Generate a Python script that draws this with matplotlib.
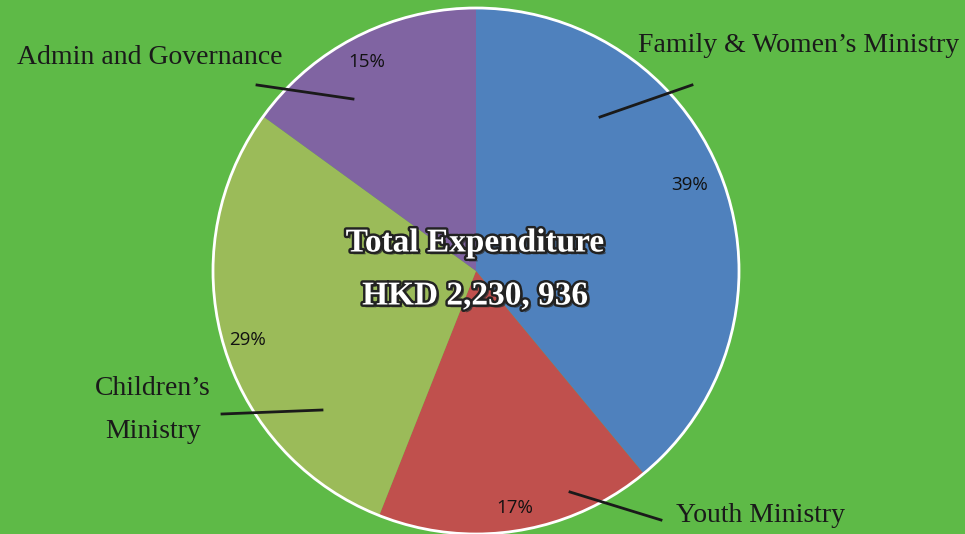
import matplotlib
matplotlib.use("Agg")
import matplotlib.pyplot as plt
import matplotlib.patheffects as pe
from matplotlib.patches import Circle

categories = ["Family & Women\u2019s Ministry", "Youth Ministry", "Children\u2019s\nMinistry", "Admin and Governance"]
values = [39, 17, 29, 15]
colors = ["#4F81BD", "#C0504D", "#9BBB59", "#8064A2"]
pct_labels = ["39%", "17%", "29%", "15%"]
title_lines = ["Total Expenditure", "HKD 2,230, 936"]

BG = "#5EBA47"
W, H = 965, 534
fig = plt.figure(figsize=(W / 100, H / 100), dpi=100, facecolor=BG)
ax = fig.add_axes([0, 0, 1, 1])
ax.set_facecolor(BG)

cx, cy, r = 476, H - 271, 263
wedges, _ = ax.pie(values, colors=colors, startangle=90, counterclock=False,
                   center=(cx, cy), radius=r, frame=True,
                   wedgeprops=dict(linewidth=0))
ax.set_xlim(0, W)
ax.set_ylim(0, H)
ax.axis("off")
ax.add_patch(Circle((cx, cy), r, fill=False, edgecolor="white", linewidth=2, zorder=5))

def P(x, y):
    return x, H - y

pct_pos = [(690, 185), (515, 508), (248, 340), (367, 62)]
for t, (x, y) in zip(pct_labels, pct_pos):
    ax.text(*P(x, y), t, ha="center", va="center", fontsize=13.5,
            family="Open Sans", color="#111111", zorder=6)

lines = [((692, 85), (600, 117)), ((570, 492), (661, 520)),
         ((222, 414), (322, 410)), ((257, 85), (353, 99))]
for (a, b) in lines:
    ax.plot([a[0], b[0]], [H - a[1], H - b[1]], color="#1a1a1a", linewidth=2, zorder=6)

label_pos = [(799, 45), (760, 516), (153, 410), (150, 58)]
for t, (x, y) in zip(categories, label_pos):
    ax.text(*P(x, y), t, ha="center", va="center", fontsize=20, family="Liberation Serif",
            color="#1a1a1a", linespacing=1.9, zorder=6)

effects = [pe.SimplePatchShadow(offset=(2, -2), shadow_rgbFace="#333333", alpha=0.8),
           pe.withStroke(linewidth=3.5, foreground="#222222")]
for t, y in zip(title_lines, [243, 296]):
    ax.text(*P(475, y), t, ha="center", va="center", fontsize=24, fontweight="bold",
            family="Liberation Serif", color="white", path_effects=effects, zorder=7)

fig.savefig("out.png", dpi=100, facecolor=BG)
